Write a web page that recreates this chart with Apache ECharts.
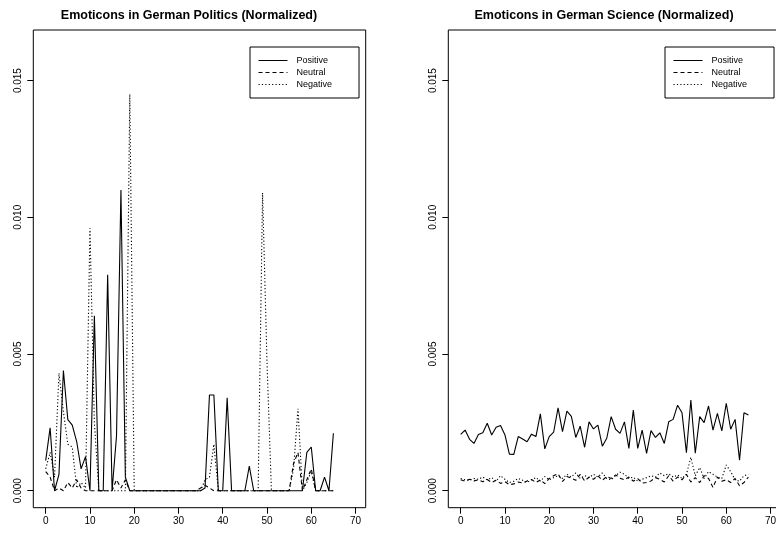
<!DOCTYPE html>
<html>
<head>
<meta charset="utf-8">
<title>Emoticons in German Politics / Science</title>
<script src="https://cdn.jsdelivr.net/npm/echarts@6/dist/echarts.min.js"></script>
<style>
  html, body { margin: 0; padding: 0; background: #fff; }
  #chart { width: 776px; height: 535px; }
</style>
</head>
<body>
<div id="chart"></div>
<script>
// x positions (index of the time step)
const steps = [0, 1, 2, 3, 4, 5, 6, 7, 8, 9, 10, 11, 12, 13, 14, 15, 16, 17, 18, 19,
  20, 21, 22, 23, 24, 25, 26, 27, 28, 29, 30, 31, 32, 33, 34, 35, 36, 37, 38, 39,
  40, 41, 42, 43, 44, 45, 46, 47, 48, 49, 50, 51, 52, 53, 54, 55, 56, 57, 58, 59,
  60, 61, 62, 63, 64, 65];

// German politics
const politicsPositive = [0.0011, 0.0023, 0, 0.0006, 0.0044, 0.0026, 0.0024, 0.0018, 0.0008, 0.00125,
  0, 0.0064, 0, 0, 0.0079, 0, 0.002, 0.011, 0.0005, 0,
  0, 0, 0, 0, 0, 0, 0, 0, 0, 0,
  0, 0, 0, 0, 0, 0, 0.0001, 0.0035, 0.0035, 0,
  0, 0.0034, 0, 0, 0, 0, 0.0009, 0, 0, 0,
  0, 0, 0, 0, 0, 0, 0, 0, 0, 0.0014,
  0.0016, 0, 0, 0.0005, 0, 0.0021];
const politicsNeutral = [0.0007, 0.0005, 0, 0.0001, 0, 0.0003, 0.0001, 0.0004, 0.0001, 0,
  0, 0, 0, 0, 0, 0, 0.0004, 0.0001, 0.0004, 0,
  0, 0, 0, 0, 0, 0, 0, 0, 0, 0,
  0, 0, 0, 0, 0, 0.0001, 0.0002, 0.0001, 0, 0,
  0, 0, 0, 0, 0, 0, 0, 0, 0, 0,
  0, 0, 0, 0, 0, 0, 0.001, 0.0014, 0, 0.0004,
  0.0008, 0, 0, 0, 0, 0];
const politicsNegative = [0.0008, 0.0014, 0.0005, 0.0043, 0.0029, 0.0017, 0.0016, 0.0001, 0.0003, 0.0001,
  0.0096, 0.0025, 0, 0, 0, 0, 0, 0, 0, 0.0145,
  0, 0, 0, 0, 0, 0, 0, 0, 0, 0,
  0, 0, 0, 0, 0, 0, 0.0004, 0.0005, 0.0017, 0,
  0, 0, 0, 0, 0, 0, 0, 0, 0, 0.0109,
  0.0047, 0, 0, 0, 0, 0, 0.0008, 0.003, 0, 0.0003,
  0.0007, 0, 0, 0, 0, 0];

// German science
const sciencePositive = [0.00206, 0.00222, 0.00188, 0.00173, 0.00206, 0.00212, 0.00247, 0.00204, 0.00232, 0.00239,
  0.00204, 0.00134, 0.00133, 0.00198, 0.00189, 0.00179, 0.00207, 0.00198, 0.00281, 0.00153,
  0.00198, 0.00214, 0.00303, 0.00216, 0.00291, 0.00272, 0.00195, 0.00236, 0.00159, 0.00252,
  0.00226, 0.0024, 0.00163, 0.00192, 0.00271, 0.00225, 0.0021, 0.00252, 0.00155, 0.00295,
  0.00155, 0.00222, 0.00137, 0.0022, 0.00195, 0.00212, 0.00173, 0.00252, 0.00261, 0.00313,
  0.00285, 0.00139, 0.00332, 0.00137, 0.00271, 0.00249, 0.0031, 0.00222, 0.00283, 0.00219,
  0.0032, 0.00225, 0.00261, 0.00112, 0.00285, 0.00277];
const scienceNeutral = [0.0004, 0.00035, 0.00042, 0.00036, 0.0004, 0.00033, 0.00041, 0.0003, 0.00038, 0.00027,
  0.00033, 0.00022, 0.00025, 0.00032, 0.00028, 0.00036, 0.00041, 0.0003, 0.0004, 0.00026,
  0.00045, 0.00055, 0.00062, 0.00034, 0.00052, 0.00046, 0.00038, 0.0006, 0.00036, 0.0005,
  0.00042, 0.00055, 0.00038, 0.00052, 0.00045, 0.00058, 0.00046, 0.0004, 0.0005, 0.00035,
  0.00044, 0.00028, 0.0003, 0.00036, 0.00048, 0.00042, 0.00032, 0.00055, 0.00035, 0.0005,
  0.0004, 0.0006, 0.00032, 0.00048, 0.0003, 0.00055, 0.00045, 0.00012, 0.0005, 0.00035,
  0.0004, 0.0003, 0.00045, 0.00018, 0.0003, 0.0005];
const scienceNegative = [0.00045, 0.0004, 0.00038, 0.00045, 0.00042, 0.0005, 0.0004, 0.00048, 0.00035, 0.00055,
  0.00042, 0.0003, 0.00035, 0.00045, 0.00038, 0.0003, 0.0004, 0.00048, 0.00035, 0.00052,
  0.0004, 0.00048, 0.00055, 0.00045, 0.0006, 0.0005, 0.00065, 0.00045, 0.00055, 0.00048,
  0.0006, 0.0005, 0.00065, 0.00045, 0.0004, 0.00055, 0.00068, 0.0006, 0.00045, 0.0005,
  0.00035, 0.00042, 0.00048, 0.00055, 0.0005, 0.00065, 0.00055, 0.00062, 0.0005, 0.00058,
  0.00045, 0.0006, 0.00122, 0.00055, 0.00085, 0.00045, 0.0007, 0.0006, 0.0005, 0.00045,
  0.00094, 0.0007, 0.0004, 0.00035, 0.00055, 0.0006];

const xTicks = [0, 10, 20, 30, 40, 50, 60, 70];
const yTicks = [0, 0.005, 0.010, 0.015];
const seriesNames = ['Positive', 'Neutral', 'Negative'];
const titles = ['Emoticons in German Politics (Normalized)', 'Emoticons in German Science (Normalized)'];

const FONT = 'Liberation Sans, Arial, Helvetica, sans-serif';

function pairs(values) {
  return values.map((v, i) => [steps[i], v]);
}

const chart = echarts.init(document.getElementById('chart'));

// estilos de línea tipo R: lty 1, 2, 3
const lineTypes = ['solid', [4, 3], [1.2, 2.2]];

function xAxisFor(idx) {
  return {
    type: 'value', gridIndex: idx, min: -2.8, max: 72.3,
    axisLine: { show: false, onZero: false },
    splitLine: { show: false },
    axisTick: { show: true, inside: false, length: 6, customValues: xTicks, lineStyle: { color: '#000' } },
    axisLabel: { customValues: xTicks, color: '#000', fontSize: 10, fontFamily: FONT, margin: 9 }
  };
}

function yAxisFor(idx) {
  return {
    type: 'value', gridIndex: idx, min: -0.00062, max: 0.01685,
    axisLine: { show: false, onZero: false },
    splitLine: { show: false },
    axisTick: { show: true, inside: false, length: 6, customValues: yTicks, lineStyle: { color: '#000' } },
    axisLabel: {
      customValues: yTicks, color: '#000', fontSize: 10, fontFamily: FONT, margin: 10,
      rotate: 90, formatter: v => v.toFixed(3)
    }
  };
}

function seriesFor(idx, groups) {
  return groups.map((vals, k) => ({
    name: seriesNames[k],
    type: 'line',
    xAxisIndex: idx, yAxisIndex: idx,
    symbol: 'none',
    data: pairs(vals),
    lineStyle: { color: '#000', width: 1.1, type: lineTypes[k] },
    itemStyle: { color: '#000' }
  }));
}

function legendFor(left) {
  return {
    left: left, top: 47, orient: 'vertical',
    data: seriesNames, selectedMode: false,
    itemWidth: 29, itemHeight: 9, itemGap: 3,
    padding: [9, 27, 9, 8],
    borderColor: '#000', borderWidth: 1,
    // ocultar el círculo del icono, dejar solo la línea
    itemStyle: { color: 'rgba(0,0,0,0)', borderColor: 'rgba(0,0,0,0)', borderWidth: 0 },
    lineStyle: { width: 1 },
    textStyle: { fontSize: 9, color: '#000', fontFamily: FONT, padding: [0, 0, 0, 4] }
  };
}

function gridFor(left) {
  return {
    left: left, top: 30, width: 332.4, height: 477.7,
    outerBoundsMode: 'none', containLabel: false,
    show: true, borderColor: '#000', borderWidth: 1, backgroundColor: 'transparent'
  };
}

const titleStyle = { fontSize: 12.5, fontWeight: 'bold', color: '#000', fontFamily: FONT };

const option = {
  backgroundColor: '#fff',
  animation: false,
  title: [
    { text: titles[0], left: 184, top: 4, textAlign: 'center', textStyle: titleStyle },
    { text: titles[1], left: 599, top: 4, textAlign: 'center', textStyle: titleStyle }
  ],
  legend: [legendFor(250), legendFor(665)],
  grid: [gridFor(33.3), gridFor(448.3)],
  xAxis: [xAxisFor(0), xAxisFor(1)],
  yAxis: [yAxisFor(0), yAxisFor(1)],
  series: [
    ...seriesFor(0, [politicsPositive, politicsNeutral, politicsNegative]),
    ...seriesFor(1, [sciencePositive, scienceNeutral, scienceNegative])
  ]
};

chart.setOption(option);
window.addEventListener('resize', () => chart.resize());
</script>
</body>
</html>
